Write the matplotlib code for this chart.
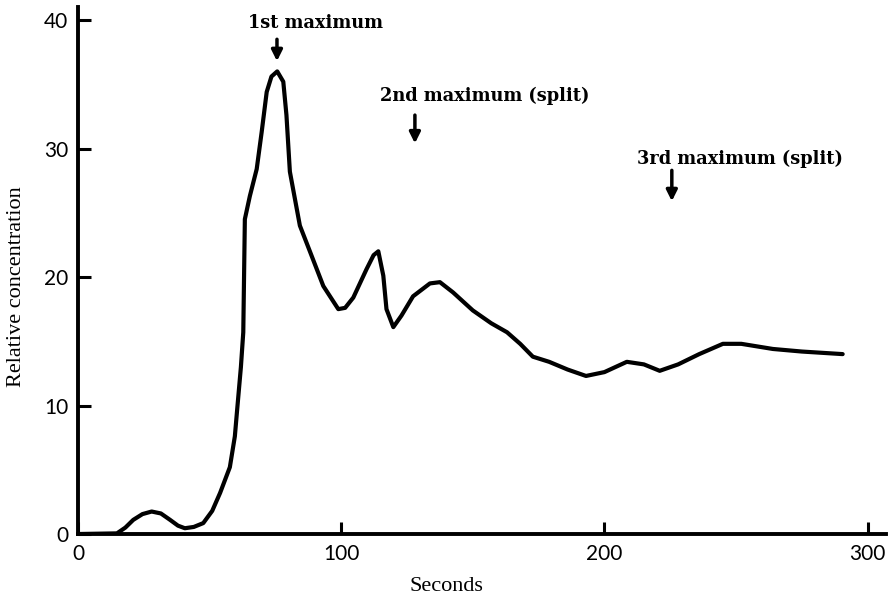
import matplotlib.pyplot as plt

# values
seconds = [0, 14.8, 18, 21, 24.5, 28, 31.5, 35, 38, 40.6, 44, 47.6, 51, 54, 57.7, 59.6,
           60.4, 61.9, 62.8, 63.4, 65.3, 67.9, 69.8, 71.7, 73.5, 75.7, 78, 79.2, 80.5, 84.3,
           88.1, 93.2, 98.9, 101.5, 104.6, 109.6, 112.3, 114.1, 116, 117.2, 119.8, 122.9,
           127.3, 133.7, 137.5, 142.5, 150, 157, 163, 168, 172.8, 179, 186, 193, 200, 208.5,
           215, 221, 228, 236, 245, 252, 264, 275, 290.5]
conc = [0, 0.05, 0.5, 1.1, 1.55, 1.75, 1.6, 1.1, 0.65, 0.45, 0.55, 0.85, 1.8, 3.2, 5.2, 7.6,
        9.5, 13.0, 15.7, 24.5, 26.3, 28.4, 31.3, 34.4, 35.6, 36.0, 35.2, 32.6, 28.2, 24.0,
        22.0, 19.3, 17.5, 17.6, 18.4, 20.6, 21.7, 22.0, 20.1, 17.5, 16.1, 17.0,
        18.5, 19.5, 19.6, 18.8, 17.4, 16.4, 15.7, 14.8, 13.8, 13.4, 12.8, 12.3, 12.6, 13.4,
        13.2, 12.7, 13.2, 14.0, 14.8, 14.8, 14.4, 14.2, 14.0]

xticks = [0, 100, 200, 300]
yticks = [0, 10, 20, 30, 40]

notes = ["1st maximum", "2nd maximum (split)", "3rd maximum (split)"]
note_x = [64.6, 114.7, 212.3]
note_y = [39.75, 34.1, 29.2]
arrow_x = [75.6, 128, 225.6]
arrow_top = [38.5, 32.6, 28.3]
arrow_bot = [36.8, 30.4, 25.9]

fig = plt.figure(figsize=(8.91, 5.96), dpi=100)
ax = fig.add_axes([0.0875, 0.104, 0.907, 0.884])

ax.plot(seconds, conc, color='black', lw=3, solid_capstyle='round', solid_joinstyle='round')

ax.set_xlim(0, 307)
ax.set_ylim(0, 41)
ax.spines['top'].set_visible(False)
ax.spines['right'].set_visible(False)
for s in ['left', 'bottom']:
    ax.spines[s].set_linewidth(2.8)

ax.set_xticks(xticks)
ax.set_yticks(yticks)
ax.set_xticklabels([str(t) for t in xticks])
ax.set_yticklabels([str(t) for t in yticks])
ax.tick_params(direction='in', length=9, width=2.2, labelsize=15, pad=7)
for lab in ax.get_xticklabels() + ax.get_yticklabels():
    lab.set_family('Lato')

ax.set_xlabel('Seconds', family='Liberation Serif', fontsize=16)
ax.set_ylabel('Relative concentration', family='Liberation Serif', fontsize=16)
ax.xaxis.set_label_coords(0.456, -0.082)
ax.yaxis.set_label_coords(-0.064, 0.47)

for t, tx, ty, axx, at, ab in zip(notes, note_x, note_y, arrow_x, arrow_top, arrow_bot):
    ax.text(tx, ty, t, family='DejaVu Serif', fontsize=12.8, fontweight='bold',
            ha='left', va='center')
    ax.annotate('', xy=(axx, ab), xytext=(axx, at),
                arrowprops=dict(arrowstyle='-|>', color='black', lw=2.5,
                                mutation_scale=16, shrinkA=0, shrinkB=0))

fig.savefig('out.png', dpi=100)
